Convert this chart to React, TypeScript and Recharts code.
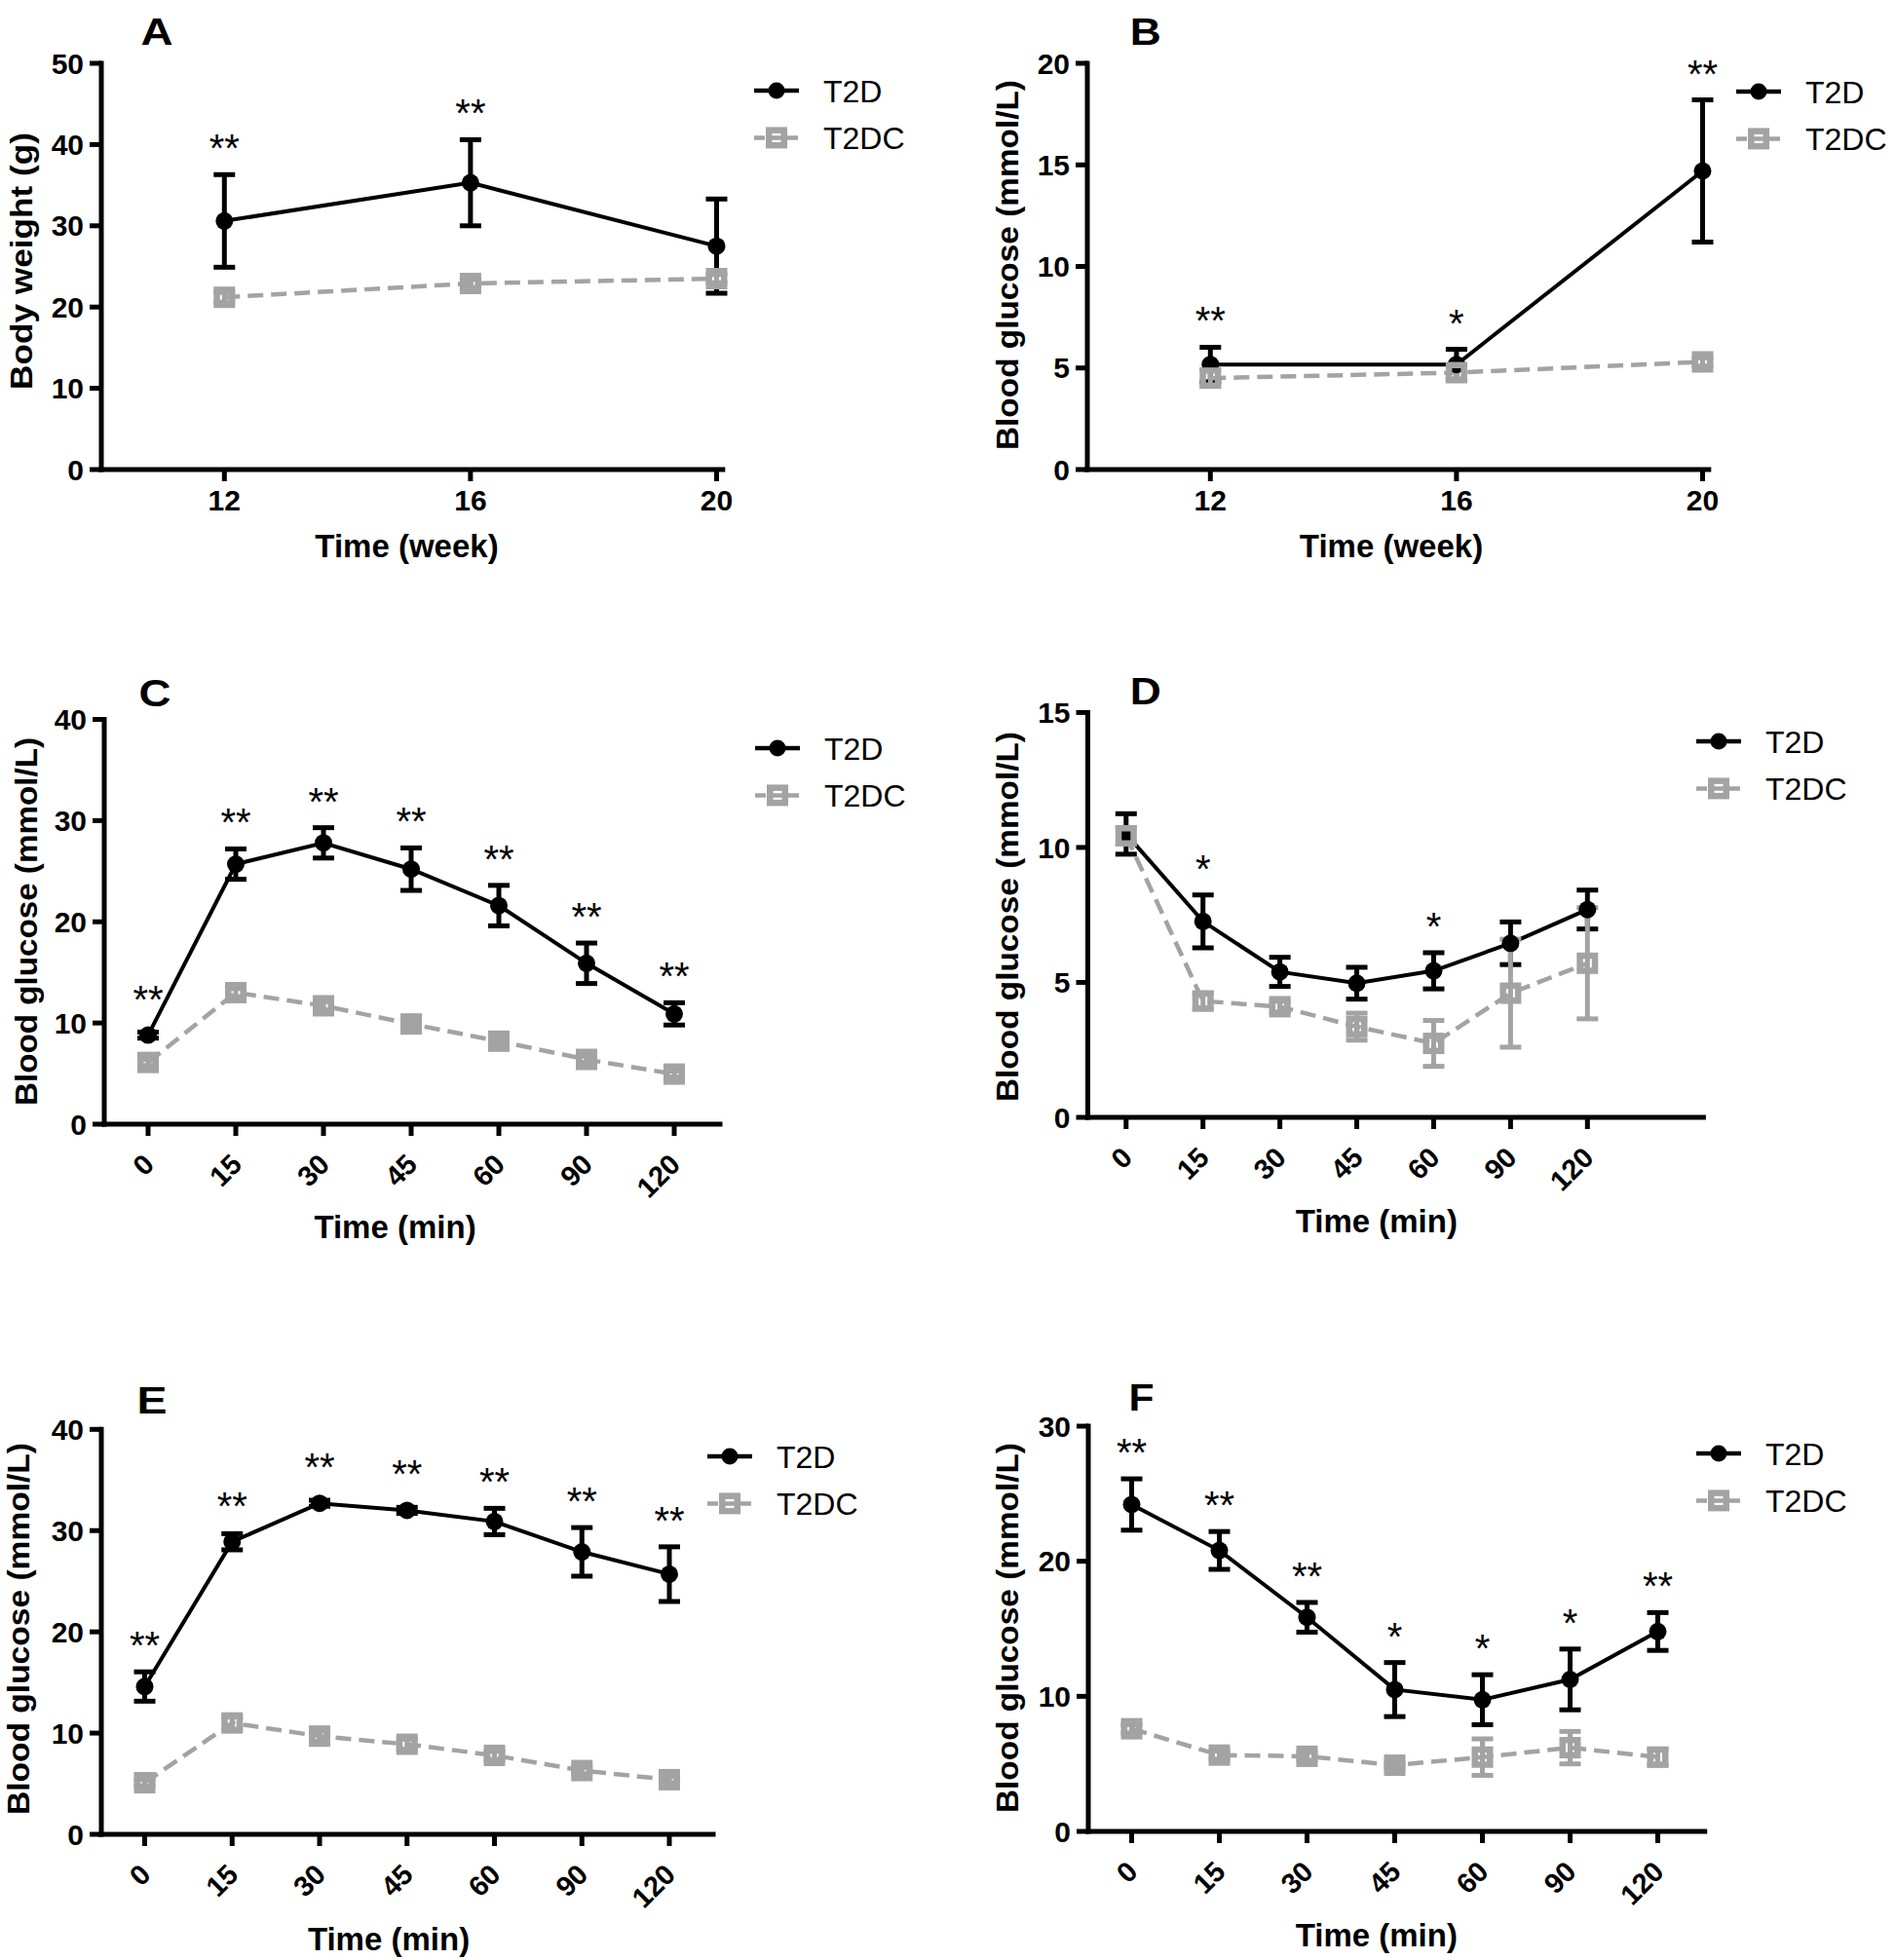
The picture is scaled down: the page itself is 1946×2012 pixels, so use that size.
import React from 'react';
import { LineChart, Line, XAxis, YAxis, ErrorBar, Legend } from 'recharts';

const FONT = 'Arial, "Liberation Sans", Helvetica, sans-serif';
const INK = '#000000';
const GREY = '#a3a3a3';

// A: body weight per week
const weeks = [12, 16, 20];
const weightT2D = [30.6, 35.3, 27.5];
const weightT2DErr = [5.7, 5.3, 5.8];
const weightT2DC = [21.2, 22.9, 23.5];
const weightT2DCErr = [0.6, 0.5, 0.5];
const weightSig = ['**', '**', ''];

// B: blood glucose per week
const fbgT2D = [5.17, 5.17, 14.7];
const fbgT2DErr = [0.85, 0.75, 3.5];
const fbgT2DC = [4.5, 4.77, 5.3];
const fbgT2DCErr = [0.4, 0.3, 0.2];
const fbgSig = ['**', '*', '**'];

const minutes = ['0', '15', '30', '45', '60', '90', '120'];

// C
const cT2D = [8.8, 25.7, 27.8, 25.2, 21.6, 15.9, 10.9];
const cT2DErr = [0.3, 1.5, 1.5, 2.1, 2.0, 2.0, 1.1];
const cT2DC = [6.1, 13.0, 11.7, 9.9, 8.2, 6.4, 4.95];
const cT2DCErr = [0.3, 0.4, 0.4, 0.3, 0.3, 0.3, 0.3];
const cSig = ['**', '**', '**', '**', '**', '**', '**'];

// D
const dT2D = [10.5, 7.26, 5.39, 4.97, 5.43, 6.45, 7.7];
const dT2DErr = [0.75, 0.98, 0.54, 0.59, 0.67, 0.79, 0.72];
const dT2DC = [10.43, 4.31, 4.1, 3.36, 2.74, 4.6, 5.71];
const dT2DCErr = [0.3, 0.3, 0.2, 0.5, 0.85, 2.0, 2.06];
const dSig = ['', '*', '', '', '*', '', ''];

// E
const eT2D = [14.6, 28.9, 32.7, 32.0, 30.9, 27.9, 25.7];
const eT2DErr = [1.45, 0.8, 0.3, 0.3, 1.3, 2.4, 2.7];
const eT2DC = [5.1, 11.0, 9.7, 8.9, 7.8, 6.3, 5.4];
const eT2DCErr = [0.3, 0.6, 0.5, 0.5, 0.4, 0.3, 0.3];
const eSig = ['**', '**', '**', '**', '**', '**', '**'];

// F
const fT2D = [24.2, 20.8, 15.85, 10.5, 9.75, 11.25, 14.8];
const fT2DErr = [1.9, 1.4, 1.1, 2.0, 1.85, 2.25, 1.4];
const fT2DC = [7.6, 5.65, 5.56, 4.9, 5.5, 6.2, 5.5];
const fT2DCErr = [0.3, 0.3, 0.3, 0.2, 1.35, 1.2, 0.6];
const fSig = ['**', '**', '**', '*', '*', '*', '**'];

const rows = (xs: any[], t2d: number[], t2dErr: number[], t2dc: number[], t2dcErr: number[], sig: string[]) =>
  xs.map((x, i) => ({ x, t2d: t2d[i], t2dErr: t2dErr[i], t2dc: t2dc[i], t2dcErr: t2dcErr[i], sig: sig[i] }));

const glucoseTitle = 'Blood glucose (mmol/L)';

const panels = [
  {
    letter: 'A', letterPos: { x: 161, y: 46, len: 33 },
    box: { left: 0, top: 0, width: 973, height: 660 },
    plot: { left: 104, right: 741.8, top: 65, bottom: 482 },
    numeric: true, domainX: [10, 20.1],
    yMax: 50, yTicks: [0, 10, 20, 30, 40, 50],
    yTitle: 'Body weight (g)', yTitlePos: { x: 33, y: 268, len: 264 },
    xTitle: 'Time (week)', xTitlePos: { x: 417.5, y: 571.7 },
    legend: { x: 774, y: 93.3 },
    data: rows(weeks, weightT2D, weightT2DErr, weightT2DC, weightT2DCErr, weightSig),
  },
  {
    letter: 'B', letterPos: { x: 1175.7, y: 46, len: 32 },
    box: { left: 973, top: 0, width: 973, height: 660 },
    plot: { left: 1116, right: 1753.8, top: 65, bottom: 482 },
    numeric: true, domainX: [10, 20.1],
    yMax: 20, yTicks: [0, 5, 10, 15, 20],
    yTitle: glucoseTitle, yTitlePos: { x: 1045, y: 272, len: 380 },
    xTitle: 'Time (week)', xTitlePos: { x: 1428, y: 571.7 },
    legend: { x: 1782, y: 93.8 },
    data: rows(weeks, fbgT2D, fbgT2DErr, fbgT2DC, fbgT2DCErr, fbgSig),
  },
  {
    letter: 'C', letterPos: { x: 159, y: 725, len: 33 },
    box: { left: 0, top: 660, width: 973, height: 680 },
    plot: { left: 107, right: 739, top: 738.5, bottom: 1154 },
    pad: { left: 45, right: 47 },
    yMax: 40, yTicks: [0, 10, 20, 30, 40],
    yTitle: glucoseTitle, yTitlePos: { x: 38, y: 946, len: 378 },
    xTitle: 'Time (min)', xTitlePos: { x: 405.5, y: 1270.7 },
    legend: { x: 774.6, y: 767.8 },
    data: rows(minutes, cT2D, cT2DErr, cT2DC, cT2DCErr, cSig),
  },
  {
    letter: 'D', letterPos: { x: 1175.7, y: 723, len: 32 },
    box: { left: 973, top: 660, width: 973, height: 680 },
    plot: { left: 1116.5, right: 1748.4, top: 731.4, bottom: 1147 },
    pad: { left: 39.3, right: 119.1 },
    yMax: 15, yTicks: [0, 5, 10, 15],
    yTitle: glucoseTitle, yTitlePos: { x: 1045, y: 941, len: 380 },
    xTitle: 'Time (min)', xTitlePos: { x: 1412.8, y: 1264.7 },
    legend: { x: 1741, y: 761 },
    data: rows(minutes, dT2D, dT2DErr, dT2DC, dT2DCErr, dSig),
  },
  {
    letter: 'E', letterPos: { x: 156, y: 1450.5, len: 31 },
    box: { left: 0, top: 1340, width: 973, height: 672 },
    plot: { left: 104, right: 732, top: 1467.3, bottom: 1883 },
    pad: { left: 44.5, right: 45 },
    yMax: 40, yTicks: [0, 10, 20, 30, 40],
    yTitle: glucoseTitle, yTitlePos: { x: 30, y: 1672, len: 382 },
    xTitle: 'Time (min)', xTitlePos: { x: 399, y: 2001.7 },
    legend: { x: 725.6, y: 1495 },
    data: rows(minutes, eT2D, eT2DErr, eT2DC, eT2DCErr, eSig),
  },
  {
    letter: 'F', letterPos: { x: 1171.4, y: 1448.3, len: 26 },
    box: { left: 973, top: 1340, width: 973, height: 672 },
    plot: { left: 1117, right: 1749.7, top: 1464, bottom: 1880 },
    pad: { left: 44.5, right: 48.2 },
    yMax: 30, yTicks: [0, 10, 20, 30],
    yTitle: glucoseTitle, yTitlePos: { x: 1045, y: 1671, len: 380 },
    xTitle: 'Time (min)', xTitlePos: { x: 1412.8, y: 1997.5 },
    legend: { x: 1741, y: 1492 },
    data: rows(minutes, fT2D, fT2DErr, fT2DC, fT2DCErr, fSig),
  },
];

const Y_W = 90;
const X_H = 60;
const tickFont = { fill: INK, fontSize: 30, fontWeight: 'bold', fontFamily: FONT };
const axisStyle = { stroke: INK, strokeWidth: 5, strokeLinecap: 'square' as const };

const RotTick = (props: any) => {
  const { x, y, payload } = props;
  const ax = x + 8;
  return (
    <text x={ax} y={y} transform={`rotate(-45, ${ax}, ${y})`} textAnchor="end"
      fontSize={29} fontWeight="bold" fontFamily={FONT} fill={INK}>
      {payload.value}
    </text>
  );
};

const renderLegend = (props: any) => {
  const items = props.payload || [];
  return (
    <svg width={220} height={110} style={{ overflow: 'visible' }}>
      {items.map((item: any, i: number) => {
        const y = 30 + i * 48.4;
        const solid = i === 0;
        return (
          <g key={`lg-${i}`}>
            <line x1={0} x2={46} y1={y} y2={y} stroke={solid ? INK : GREY} strokeWidth={4.5}
              strokeDasharray={solid ? undefined : '11 6'} />
            {solid
              ? <circle cx={23} cy={y} r={8.5} fill={INK} />
              : <rect x={23 - 7.75} y={y - 7.75} width={15.5} height={15.5} fill="none" stroke={GREY} strokeWidth={6.5} />}
            <text x={71} y={y + 11.5} fontSize={32} fontFamily={FONT} fill={INK}>{item.value}</text>
          </g>
        );
      })}
    </svg>
  );
};

function Panel({ p }: { p: any }) {
  const { box, plot } = p;
  const margin = {
    top: plot.top - box.top,
    left: plot.left - box.left - Y_W,
    right: box.left + box.width - plot.right,
    bottom: box.top + box.height - plot.bottom - X_H,
  };
  const ppu = (plot.bottom - plot.top) / p.yMax;
  const lx = (v: number) => v - box.left;
  const ly = (v: number) => v - box.top;

  const t2dDot = (d: any) => {
    const { cx, cy, payload, index } = d;
    const errTop = cy - payload.t2dErr * ppu;
    const starY = Math.min(errTop, cy - 10) - 36 + 23;
    return (
      <g key={`t2d-${index}`}>
        <circle cx={cx} cy={cy} r={9} fill={INK} />
        {payload.sig ? (
          <text x={cx} y={starY} textAnchor="middle" fontSize={40} fontFamily={FONT} fill={INK}>{payload.sig}</text>
        ) : null}
      </g>
    );
  };

  const t2dcDot = (d: any) => {
    const { cx, cy, index } = d;
    return (
      <rect key={`t2dc-${index}`} x={cx - 7.75} y={cy - 7.75} width={15.5} height={15.5}
        fill="none" stroke={GREY} strokeWidth={6.5} />
    );
  };

  const yTitle = () => (
    <text x={lx(p.yTitlePos.x)} y={ly(p.yTitlePos.y)}
      transform={`rotate(-90, ${lx(p.yTitlePos.x)}, ${ly(p.yTitlePos.y)})`}
      textAnchor="middle" fontSize={31} fontWeight="bold" fontFamily={FONT} fill={INK}
      textLength={p.yTitlePos.len} lengthAdjust="spacingAndGlyphs">
      {p.yTitle}
    </text>
  );

  const xTitle = () => (
    <text x={lx(p.xTitlePos.x)} y={ly(p.xTitlePos.y)} textAnchor="middle"
      fontSize={33} fontWeight="bold" fontFamily={FONT} fill={INK}>
      {p.xTitle}
    </text>
  );

  return (
    <div style={{ position: 'absolute', left: box.left, top: box.top, width: box.width, height: box.height }}>
      <LineChart width={box.width} height={box.height} data={p.data} margin={margin}>
        {p.numeric ? (
          <XAxis dataKey="x" type="number" domain={p.domainX} ticks={weeks} interval={0}
            height={X_H} tick={tickFont} tickSize={12} tickMargin={9}
            axisLine={axisStyle} tickLine={{ stroke: INK, strokeWidth: 5 }}
            label={{ content: xTitle }} />
        ) : (
          <XAxis dataKey="x" type="category" scale="point" padding={p.pad} interval={0}
            height={X_H} tick={<RotTick />} tickSize={12} tickMargin={31}
            axisLine={axisStyle} tickLine={{ stroke: INK, strokeWidth: 5 }}
            label={{ content: xTitle }} />
        )}
        <YAxis type="number" domain={[0, p.yMax]} ticks={p.yTicks} interval={0} width={Y_W}
          tick={tickFont} tickSize={12} tickMargin={6}
          axisLine={axisStyle} tickLine={{ stroke: INK, strokeWidth: 5 }}
          label={{ content: yTitle }} />
        <Line type="linear" dataKey="t2d" name="T2D" stroke={INK} strokeWidth={4}
          dot={t2dDot} activeDot={false} isAnimationActive={false}>
          <ErrorBar dataKey="t2dErr" direction="y" width={11} stroke={INK} strokeWidth={5} isAnimationActive={false} />
        </Line>
        <Line type="linear" dataKey="t2dc" name="T2DC" stroke={GREY} strokeWidth={4.5} strokeDasharray="16 8"
          dot={t2dcDot} activeDot={false} isAnimationActive={false}>
          <ErrorBar dataKey="t2dcErr" direction="y" width={11} stroke={GREY} strokeWidth={5} isAnimationActive={false} />
        </Line>
        <Legend layout="horizontal" verticalAlign="middle" align="center" content={renderLegend}
          wrapperStyle={{ left: lx(p.legend.x), top: ly(p.legend.y) - 30, width: 220, height: 110 }} />
      </LineChart>
      <svg width={box.width} height={box.height}
        style={{ position: 'absolute', left: 0, top: 0, pointerEvents: 'none' }}>
        <text x={lx(p.letterPos.x)} y={ly(p.letterPos.y)} textAnchor="middle" fontSize={38}
          fontWeight="bold" fontFamily={FONT} fill={INK}
          textLength={p.letterPos.len} lengthAdjust="spacingAndGlyphs">
          {p.letter}
        </text>
      </svg>
    </div>
  );
}

export default function App() {
  return (
    <div style={{ position: 'absolute', left: 0, top: 0, width: 1946, height: 2012, background: '#ffffff' }}>
      {panels.map((p) => <Panel key={p.letter} p={p} />)}
    </div>
  );
}
